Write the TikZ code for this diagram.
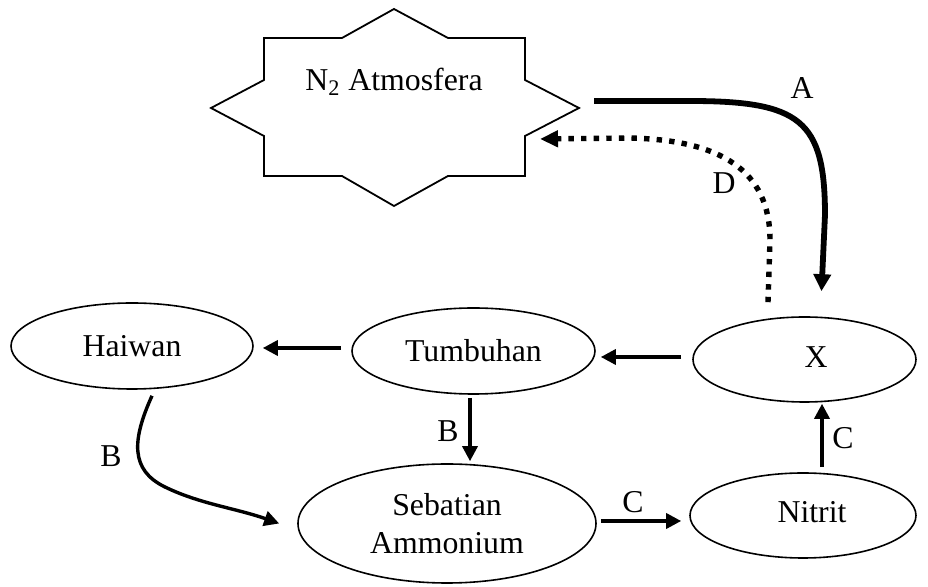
\documentclass[tikz,border=0pt]{standalone}
\usepackage{fontspec}
\setmainfont{Liberation Serif}
\usetikzlibrary{arrows.meta,shapes.geometric}
\begin{document}
\begin{tikzpicture}[x=0.5pt,y=-0.5pt,
  every node/.style={font=\fontsize{15.9}{19}\selectfont},
  oval/.style={draw, ellipse, line width=0.8pt, inner sep=0pt},
  arr/.style={line width=1.7pt, -{Triangle[length=7.5pt,width=7.5pt]}},
  arrA/.style={line width=2.9pt, -{Triangle[length=8.5pt,width=8.5pt]}},
  arrD/.style={line width=2.7pt, dash pattern=on 2.7pt off 3.6pt, -{Triangle[length=9pt,width=8pt]}},
  lbl/.style={inner sep=0pt}
]
\useasboundingbox (0,0) rectangle (928,587);

% star
\draw[line width=0.9pt] (394,9) -- (448,38) -- (525,38) -- (525,80) -- (579,108) -- (525,136) -- (525,176) -- (448,176) -- (394,206) -- (342,176) -- (264,176) -- (264,136) -- (211,108) -- (264,80) -- (264,38) -- (342,38) -- cycle;
\node (atm) at (394,82) {N\textsubscript{2} Atmosfera};
\coordinate (aS) at (594,101);
\coordinate (dE) at (540,139);

% ellipses
\node[oval, minimum width=121pt, minimum height=43pt] (haiwan) at (132,346) {Haiwan};
\node[oval, minimum width=121.5pt, minimum height=43pt] (tumb) at (473.5,351) {Tumbuhan};
\node[oval, minimum width=149pt, minimum height=59.5pt, align=center] (seb) at (447,523.5) {Sebatian\\Ammonium};
\node[oval, minimum width=111.5pt, minimum height=42.5pt] (x) at (804.5,359.5) {};
\node (xt) at (816,357) {X};
\node[oval, minimum width=113pt, minimum height=42.5pt] (nitrit) at (803,515.5) {};
\node (nt) at (812,512) {Nitrit};

% straight arrows
\draw[arr] ([xshift=-5pt,yshift=1.5pt]tumb.west) -- ([xshift=4.5pt,yshift=-1pt]haiwan.east);
\draw[arr] ([xshift=-5.5pt,yshift=1.25pt]x.west) -- ([xshift=2.5pt,yshift=-3pt]tumb.east);
\draw[arr] ([xshift=-1.75pt,yshift=-1.5pt]tumb.south) -- ([xshift=-1.75pt,yshift=1pt]tumb.south |- seb.north);
\draw[arr] ([xshift=2pt,yshift=1.25pt]seb.east) -- ([xshift=-4pt,yshift=-2.75pt]nitrit.west);
\draw[arr] ([xshift=9.5pt,yshift=2.5pt]nitrit.north) -- ([xshift=8.75pt,yshift=-0.5pt]x.south);

% curved B arrow
\coordinate (hb0) at ([xshift=10pt,yshift=-3pt]haiwan.south);
\coordinate (hb1) at ([xshift=-9pt]seb.west);
\draw[arr] (hb0) .. controls (132,440) and (130,470) .. (165,487) .. controls (200,504) and (235,508) .. (hb1);

% A arrow
\coordinate (aE) at ([xshift=8.5pt,yshift=12.5pt]x.north);
\draw[arrA] (aS) -- (690,101) .. controls (800,101) and (825,120) .. (825,215) -- (aE);

% D arrow
\coordinate (dS) at ([xshift=-18.25pt,yshift=7pt]x.north);
\draw[arrD] (dS) -- (770,240) .. controls (770,170) and (720,140) .. (630,138) -- (dE);

% labels
\node[lbl] (la) at (802,88) {A};
\node[lbl] (ld) at (724,183) {D};
\node[lbl] (lb1) at (448,431) {B};
\node[lbl] (lb2) at (111,456) {B};
\node[lbl] (lc1) at (633,502) {C};
\node[lbl] (lc2) at (843,438) {C};
\end{tikzpicture}
\end{document}
